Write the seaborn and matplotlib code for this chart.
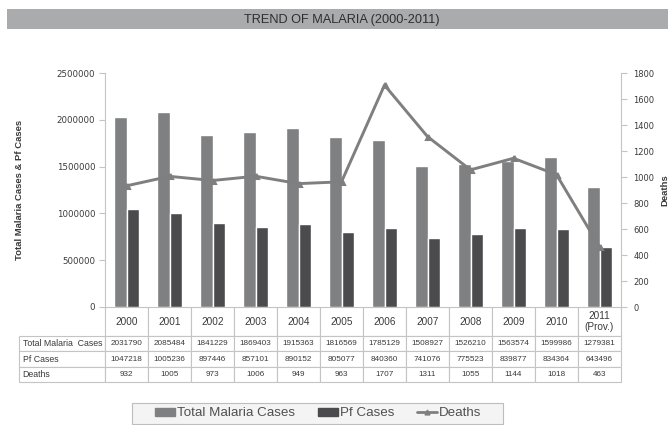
import matplotlib
matplotlib.use("Agg")
import matplotlib.pyplot as plt
import matplotlib.patches as mpatches
from matplotlib.lines import Line2D
import seaborn as sns
import pandas as pd

years = ["2000", "2001", "2002", "2003", "2004", "2005", "2006", "2007", "2008", "2009", "2010", "2011\n(Prov.)"]
total_cases = [2031790, 2085484, 1841229, 1869403, 1915363, 1816569, 1785129, 1508927, 1526210, 1563574, 1599986, 1279381]
pf_cases = [1047218, 1005236, 897446, 857101, 890152, 805077, 840360, 741076, 775523, 839877, 834364, 643496]
deaths = [932, 1005, 973, 1006, 949, 963, 1707, 1311, 1055, 1144, 1018, 463]

row_labels = ["Total Malaria  Cases", "Pf Cases", "Deaths"]
left_ticks = [0, 500000, 1000000, 1500000, 2000000, 2500000]
right_ticks = [0, 200, 400, 600, 800, 1000, 1200, 1400, 1600, 1800]

sns.set_style("white")
plt.rcParams["font.family"] = ["Liberation Sans", "DejaVu Sans"]

C_TOTAL = "#7e8082"
C_PF = "#4b4b4e"
C_LINE = "#7f7f7f"
C_TEXT = "#3a3a3a"
C_GRID = "#c4c4c4"

W, H = 668, 425
fig = plt.figure(figsize=(W / 100, H / 100), dpi=100)
AX_L, AX_R, AX_T, AX_B = 105, 621, 73, 307
ax = fig.add_axes([AX_L / W, 1 - AX_B / H, (AX_R - AX_L) / W, (AX_B - AX_T) / H])
AXW, AXH = AX_R - AX_L, AX_B - AX_T

# title band
fig.patches.append(mpatches.Rectangle((7 / W, 1 - 29 / H), 661 / W, 20 / H,
                                      transform=fig.transFigure, facecolor="#a9abac",
                                      edgecolor="none", zorder=0))
fig.text(342 / W, 1 - 19.5 / H, "TREND OF MALARIA (2000-2011)", ha="center", va="center",
         fontsize=9.2, color="#2e2e2e")

df = pd.DataFrame({
    "year": years * 2,
    "value": total_cases + pf_cases,
    "series": ["Total Malaria Cases"] * len(years) + ["Pf Cases"] * len(years),
})
sns.barplot(data=df, x="year", y="value", hue="series", order=years,
            palette={"Total Malaria Cases": C_TOTAL, "Pf Cases": C_PF},
            width=0.56, gap=0, ax=ax, legend=False, saturation=1)

ax.set_xlim(-0.5, len(years) - 0.5)
ax.set_ylim(0, 2500000)
ax.set_yticks(left_ticks)
ax.set_yticklabels([str(t) for t in left_ticks], fontsize=6.2, color=C_TEXT,
                   family=["DejaVu Sans"])
ax.set_xticks([])
ax.set_xlabel("")
ax.set_ylabel("Total Malaria Cases & Pf Cases", fontsize=6.8, color=C_TEXT,
              fontweight="bold")
ax.yaxis.set_label_coords((24 - AX_L) / AXW, 0.5)
ax.tick_params(axis="y", length=4, color=C_GRID, pad=3)
for s in ["top", "bottom", "right"]:
    ax.spines[s].set_visible(False)
ax.spines["left"].set_color(C_GRID)

ax2 = ax.twinx()
sns.pointplot(x=list(range(len(years))), y=deaths, native_scale=True, ax=ax2, color=C_LINE,
              linewidth=2.1, markers="^", markersize=3.5)
ax2.set_xlim(-0.5, len(years) - 0.5)
ax2.set_ylim(0, 1800)
ax2.set_yticks(right_ticks)
ax2.set_yticklabels([str(t) for t in right_ticks], fontsize=6.0, color=C_TEXT,
                    family=["DejaVu Sans"])
ax2.set_ylabel("Deaths", fontsize=6.8, color=C_TEXT, fontweight="bold")
ax2.yaxis.set_label_coords((660 - AX_L) / AXW, 0.5)
ax2.tick_params(axis="y", length=4, color=C_GRID, pad=5)
ax2.set_xticks([])
for s in ["top", "bottom", "left"]:
    ax2.spines[s].set_visible(False)
ax2.spines["right"].set_color(C_GRID)

# data table under the plot (grid spans the plot width, row labels to the left)
cell_text = [[str(v) for v in total_cases],
             [str(v) for v in pf_cases],
             [str(v) for v in deaths]]
col_w = 1.0 / len(years)
TBL_BOTTOM = 382
tbl = ax.table(cellText=cell_text, rowLabels=row_labels, colLabels=years,
               colWidths=[col_w] * len(years), cellLoc="center", rowLoc="left",
               bbox=[0, -(TBL_BOTTOM - AX_B) / AXH, 1, (TBL_BOTTOM - AX_B) / AXH])
tbl.auto_set_font_size(False)
for (r, c), cell in tbl.get_celld().items():
    cell.set_edgecolor(C_GRID)
    cell.set_linewidth(0.8)
    txt = cell.get_text()
    txt.set_color(C_TEXT)
    if r == 0:
        cell.set_height(29)
        txt.set_fontsize(7.2)
    else:
        cell.set_height(15.3)
        txt.set_fontsize(5.9)
    if c == -1:
        cell.set_width(89 / AXW)
        cell.PAD = 0.04
        txt.set_fontsize(6.3)

# legend with its own frame
fig.patches.append(mpatches.Rectangle((132 / W, 1 - 424 / H), 371 / W, 21 / H,
                                      transform=fig.transFigure, facecolor="#f4f4f4",
                                      edgecolor="#bdbdbd", linewidth=0.8, zorder=0))
handles = [mpatches.Patch(color=C_TOTAL, label="Total Malaria Cases"),
           mpatches.Patch(color=C_PF, label="Pf Cases"),
           Line2D([0], [0], color=C_LINE, lw=2, marker="^", markersize=3.5, label="Deaths")]
leg = fig.legend(handles=handles, loc="center", bbox_to_anchor=(318 / W, 1 - 413.5 / H),
                 ncol=3, frameon=False, fontsize=9.6, handlelength=1.5, handleheight=0.6,
                 handletextpad=0.15, columnspacing=1.7, borderpad=0.2)
for t in leg.get_texts():
    t.set_color("#505050")

fig.savefig("out.png", dpi=100)
